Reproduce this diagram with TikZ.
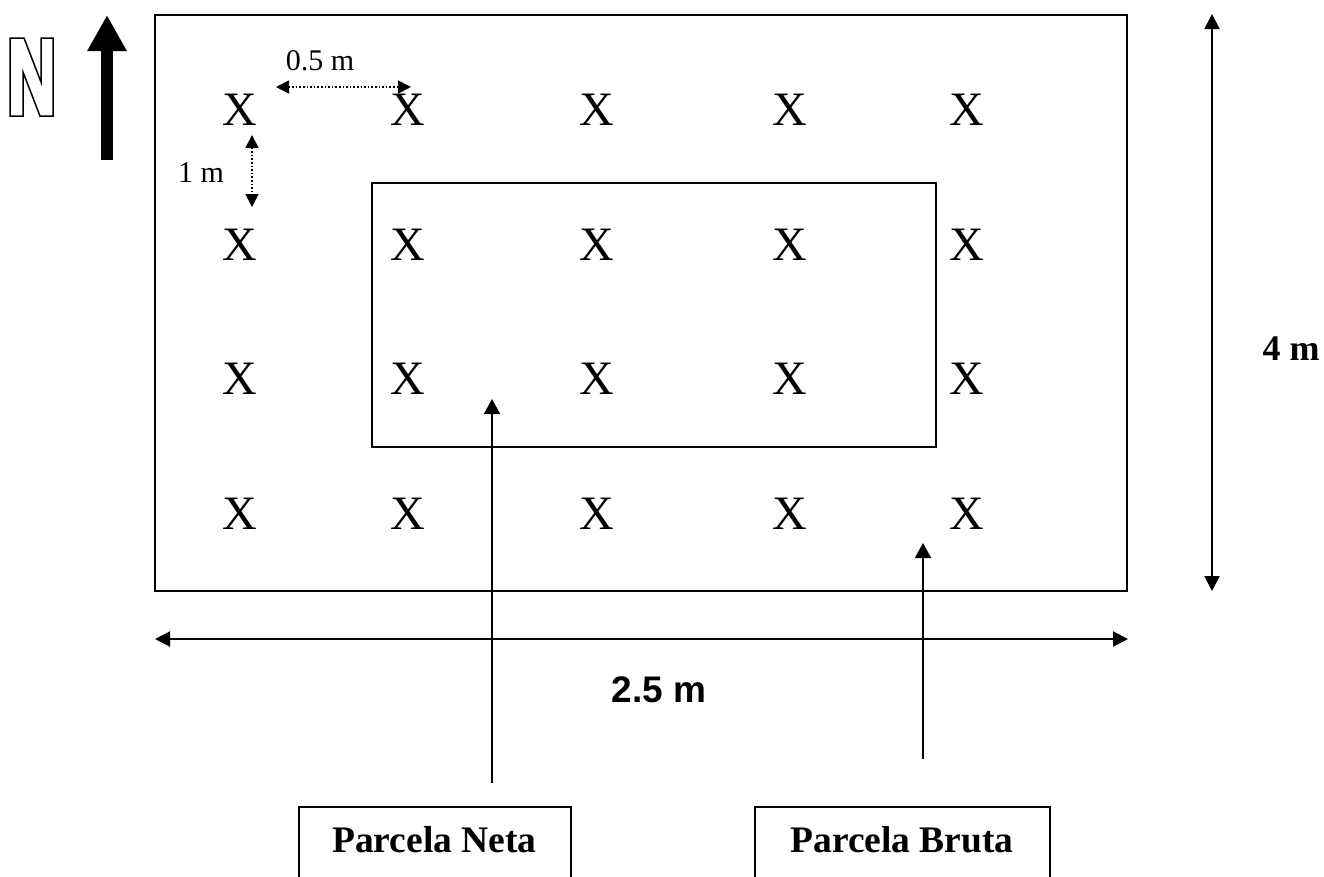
\documentclass[tikz,border=0pt]{standalone}
\usepackage{fontspec}
\setmainfont{Liberation Serif}
\newfontfamily\arialfont{Liberation Sans}
\usetikzlibrary{arrows.meta}
\tikzset{
  plot/.style={draw=black, line width=2pt},
  xmark/.style={font=\fontsize{48}{48}\selectfont, inner sep=0pt},
  small/.style={font=\fontsize{30}{30}\selectfont, inner sep=0pt},
  dim/.style={line width=2pt, {Triangle[width=15pt,length=15pt]}-{Triangle[width=15pt,length=15pt]}},
  dotdim/.style={line width=1.6pt, dotted, {Triangle[width=13pt,length=13pt]}-{Triangle[width=13pt,length=13pt]}},
  pointer/.style={line width=1.6pt, -{Triangle[width=16pt,length=15pt]}},
  lbl/.style={font=\bfseries\fontsize{37.5}{37.5}\selectfont, inner sep=0pt},
}
\begin{document}
\begin{tikzpicture}[x=1pt,y=-1pt]
\useasboundingbox (0,0) rectangle (1324,876);
% north sign
\draw[line width=1.5pt] (10,38) -- (24,38) -- (41,82) -- (41,38) -- (53,38) -- (53,116) -- (40,116) -- (23,72) -- (23,116) -- (10,116) -- cycle;
\coordinate (ns) at (107,160);
\coordinate (nn) at (107,15);
\draw[line width=12pt, -{Triangle[width=37pt,length=36pt]}] (ns) -- (nn);
% plots
\coordinate (bruta1) at (155,15);
\coordinate (bruta2) at (1127,591);
\draw[plot] (bruta1) rectangle (bruta2);
\coordinate (neta1) at (372,183);
\coordinate (neta2) at (936,447);
\draw[plot] (neta1) rectangle (neta2);
% plants
\foreach \x [count=\i] in {240,408,597,790,967}{
  \foreach \y [count=\j] in {110,245,379,514}{
    \node[xmark] (p\i\j) at (\x,\y) {X};
  }
}
% spacing marks
\coordinate (h1) at (276,87);
\coordinate (h2) at (411,87);
\draw[dotdim] (h1) -- (h2);
\node[small, anchor=base] (lh) at (320,70) {0.5 m};
\coordinate (v1) at (252,135);
\coordinate (v2) at (252,207);
\draw[dotdim] (v1) -- (v2);
\node[small, anchor=base] (lv) at (201,182) {1 m};
% dimensions
\coordinate (dh1) at (155,639);
\coordinate (dh2) at (1128,639);
\draw[dim] (dh1) -- (dh2);
\node[font=\arialfont\bfseries\fontsize{37}{37}\selectfont, inner sep=0pt] (lw) at (659,690) {2.5 m};
\coordinate (dv1) at (1212,14);
\coordinate (dv2) at (1212,591);
\draw[dim] (dv1) -- (dv2);
\node[font=\bfseries\fontsize{36}{36}\selectfont, inner sep=0pt] (lhgt) at (1291,349) {4 m};
% labels
\node[lbl] (tneta) at (434.5,840) {Parcela Neta};
\node[lbl] (tbruta) at (902,840) {Parcela Bruta};
\draw[line width=2pt] (299,877) -- (299,807) -- (571,807) -- (571,877);
\draw[line width=2pt] (755,877) -- (755,807) -- (1050,807) -- (1050,877);
\coordinate (an1) at (492,783);
\coordinate (an2) at (492,399);
\draw[pointer] (an1) -- (an2);
\coordinate (ab1) at (923,759);
\coordinate (ab2) at (923,543);
\draw[pointer] (ab1) -- (ab2);
\end{tikzpicture}
\end{document}
